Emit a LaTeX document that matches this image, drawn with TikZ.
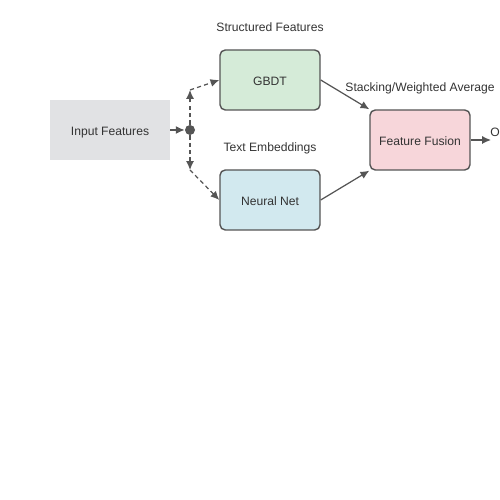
\documentclass[tikz,border=0pt]{standalone}
\usepackage{fontspec}
\setmainfont{Liberation Sans}
\usetikzlibrary{arrows.meta}
\usetikzlibrary{positioning}

\definecolor{edgegray}{HTML}{555555}
\definecolor{textgray}{HTML}{333333}
\definecolor{inputgray}{HTML}{E1E2E4}
\definecolor{gbdtgreen}{HTML}{D5EBD8}
\definecolor{netblue}{HTML}{D2E9EF}
\definecolor{fusionpink}{HTML}{F7D6DA}

\begin{document}
\begin{tikzpicture}[
  every node/.style={font=\fontsize{6.9}{8}\selectfont, text=textgray, text height=6pt, text depth=0pt},
  box/.style={draw=edgegray, line width=0.8pt, rounded corners=3pt, minimum width=2cm, minimum height=1.2cm},
  flow/.style={draw=edgegray, line width=0.7pt, -{Latex[length=5pt,width=4.5pt]}},
  dashflow/.style={flow, dash pattern=on 2.4pt off 1.8pt}
]
\useasboundingbox (0,0) rectangle (10,10);

% boxes
\node[fill=inputgray, minimum width=2.4cm, minimum height=1.2cm] (input) at (2.2,7.4) {Input Features};
\node[box, fill=gbdtgreen] (gbdt) at (5.4,8.4) {GBDT};
\node[box, fill=netblue] (neural) at (5.4,6.0) {Neural Net};
\node[box, fill=fusionpink] (fusion) at (8.4,7.2) {Feature Fusion};

% split point
\node[circle, fill=edgegray, inner sep=0pt, minimum size=0.2cm, text height=0pt] (split) at (3.8,7.4) {};
\coordinate (up) at (3.8,8.2);
\coordinate (down) at (3.8,6.6);
\coordinate (out) at (9.82,7.2);

% labels
\node (structlabel) at (5.4,9.48) {Structured Features};
\node (textlabel) at (5.4,7.08) {Text Embeddings};
\node (stacklabel) at (8.4,8.28) {Stacking/Weighted Average};
\node[anchor=west, inner sep=0pt] (outlabel) at (9.8,7.38) {Output};

% connectors
\draw[flow] (input) -- (split);
\draw[dashflow] (split) -- (up);
\draw[dashflow] (up) -- (gbdt.west);
\draw[dashflow] (split) -- (down);
\draw[dashflow] (down) -- (neural.west);
\draw[flow] (gbdt.east) -- (fusion.north west);
\draw[flow] (neural.east) -- (fusion.south west);
\draw[flow] (fusion) -- (out);
\end{tikzpicture}
\end{document}
